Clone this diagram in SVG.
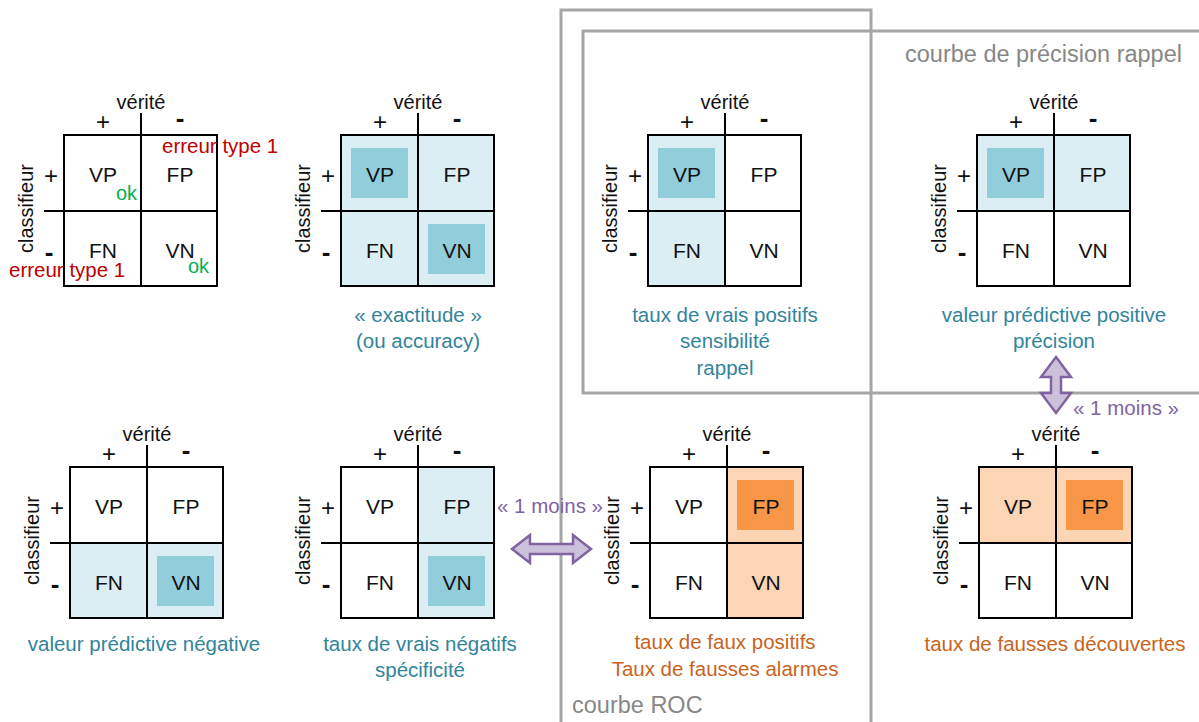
<svg xmlns="http://www.w3.org/2000/svg" width="1199" height="722" viewBox="0 0 1199 722">
<style>
text{font-family:"Liberation Sans",Arial,sans-serif;fill:#111}
.hd{font-size:20px;text-anchor:middle}
.pl{font-size:24px;text-anchor:middle}
.mi{font-size:26px;font-weight:bold;text-anchor:middle}
.cl{font-size:21px;text-anchor:middle}
.cap{font-size:20.5px;text-anchor:middle;fill:#31849B}
.capo{font-size:20.5px;text-anchor:middle;fill:#C8641E}
.err{font-size:20.5px;fill:#C00000}
.ok{font-size:20px;fill:#00B050;text-anchor:middle}
.gt{font-size:23.5px;fill:#878787}
.pt{font-size:20.5px;fill:#7F63A3}
.ln{stroke:#000;stroke-width:2;fill:none}
.lb{fill:#DAEEF3}
.db{fill:#92CDDC}
.lo{fill:#FCD5B5}
.do{fill:#F79646}
.box{fill:none;stroke:#A6A6A6;stroke-width:3}
.arr{fill:#CCC1DA;stroke:#8064A2;stroke-width:2.5;stroke-linejoin:miter}
</style>
<defs>
<g id="grid">
<rect class="ln" x="0" y="0" width="153" height="151"/>
<line class="ln" x1="77" y1="-22" x2="77" y2="151"/>
<line class="ln" x1="-20" y1="76" x2="153" y2="76"/>
<text class="hd" x="77" y="-26">vérité</text>
<text class="pl" x="39" y="-5.5">+</text>
<text class="mi" x="116" y="-8">-</text>
<text class="pl" x="-13" y="48.5">+</text>
<text class="mi" x="-15" y="126">-</text>
<text class="hd" transform="translate(-31,73.5) rotate(-90)">classifieur</text>
<text class="cl" x="39" y="47">VP</text>
<text class="cl" x="116" y="47">FP</text>
<text class="cl" x="39" y="123">FN</text>
<text class="cl" x="116" y="123">VN</text>
</g>
</defs>

<g id="roc-frame">
<rect class="box" x="561" y="10" width="310" height="730"/>
<text class="gt" x="572" y="713">courbe ROC</text>
</g>
<g id="pr-frame">
<rect class="box" x="583" y="31" width="640" height="362"/>
<text class="gt" x="905" y="62">courbe de précision rappel</text>
</g>

<g id="m1" transform="translate(64,135)">
<use href="#grid"/>
<text class="err" x="98" y="18">erreur type 1</text>
<text class="err" x="-55" y="142">erreur type 1</text>
<text class="ok" x="62.5" y="65">ok</text>
<text class="ok" x="134.5" y="138">ok</text>
</g>

<g id="m2" transform="translate(341,135)">
<rect class="lb" x="0" y="0" width="153" height="151"/>
<rect class="db" x="10" y="13" width="57" height="50"/>
<rect class="db" x="87" y="89" width="57" height="50"/>
<use href="#grid"/>
<text class="cap" x="77" y="187">« exactitude »</text>
<text class="cap" x="77" y="213">(ou accuracy)</text>
</g>

<g id="m3" transform="translate(648,135)">
<rect class="lb" x="0" y="0" width="77" height="151"/>
<rect class="db" x="10" y="13" width="57" height="50"/>
<use href="#grid"/>
<text class="cap" x="77" y="187">taux de vrais positifs</text>
<text class="cap" x="77" y="213">sensibilité</text>
<text class="cap" x="77" y="240">rappel</text>
</g>

<g id="m4" transform="translate(977,135)">
<rect class="lb" x="0" y="0" width="153" height="76"/>
<rect class="db" x="10" y="13" width="57" height="50"/>
<use href="#grid"/>
<text class="cap" x="77" y="187">valeur prédictive positive</text>
<text class="cap" x="77" y="213">précision</text>
</g>

<g id="m5" transform="translate(70,467)">
<rect class="lb" x="0" y="76" width="153" height="75"/>
<rect class="db" x="87" y="89" width="57" height="50"/>
<use href="#grid"/>
<text class="cap" x="74" y="184">valeur prédictive négative</text>
</g>

<g id="m6" transform="translate(341,467)">
<rect class="lb" x="77" y="0" width="76" height="151"/>
<rect class="db" x="87" y="89" width="57" height="50"/>
<use href="#grid"/>
<text class="cap" x="79" y="184">taux de vrais négatifs</text>
<text class="cap" x="79" y="210">spécificité</text>
</g>

<g id="m7" transform="translate(650,467)">
<rect class="lo" x="77" y="0" width="76" height="151"/>
<rect class="do" x="87" y="13" width="57" height="50"/>
<use href="#grid"/>
<text class="capo" x="75" y="182">taux de faux positifs</text>
<text class="capo" x="75" y="209">Taux de fausses alarmes</text>
</g>

<g id="m8" transform="translate(979,467)">
<rect class="lo" x="0" y="0" width="153" height="76"/>
<rect class="do" x="87" y="13" width="57" height="50"/>
<use href="#grid"/>
<text class="capo" x="76" y="184">taux de fausses découvertes</text>
</g>

<g id="connectors">
<path class="arr" d="M512,549 L530,535 L530,544 L573,544 L573,535 L591,549 L573,563 L573,554 L530,554 L530,563 Z"/>
<text class="pt" x="497" y="513">« 1 moins »</text>
<path class="arr" d="M1056,357 L1071,377 L1061,377 L1061,393 L1071,393 L1056,413 L1041,393 L1051,393 L1051,377 L1041,377 Z"/>
<text class="pt" x="1073" y="415">« 1 moins »</text>
</g>
</svg>
